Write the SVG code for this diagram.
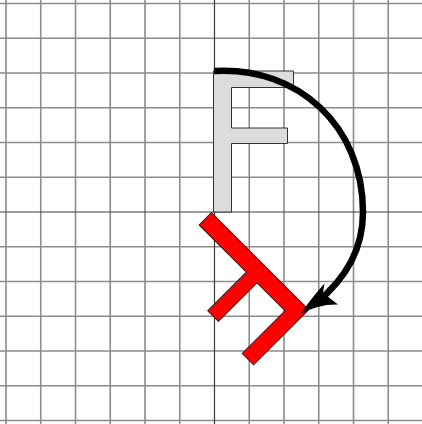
<svg xmlns="http://www.w3.org/2000/svg" width="422" height="424" viewBox="0 0 422 424">
<defs>
<style>
.g{stroke:#8c8c8c;stroke-width:1.6;fill:none}
.ax{stroke:#3c3c3c;stroke-width:1.2;fill:none}
.fo{fill:#dcdcdc;stroke:#333;stroke-width:1}
.fr{fill:#ff0000;stroke:#222;stroke-width:1}
.arc{fill:none;stroke:#000;stroke-width:6.5}
</style>
<path id="F" d="M0,0 V-141 H80 V-124.5 H18 V-84 H74 V-68.5 H18 V0 Z"/>
</defs>
<rect width="422" height="424" fill="#fff"/>
<g id="grid">
<path class="g" d="M6,0V424M40.75,0V424M75.5,0V424M110.25,0V424M145,0V424M179.75,0V424M249.25,0V424M284,0V424M318.75,0V424M353.5,0V424M388.25,0V424"/>
<path class="g" d="M0,3.5H422M0,38.25H422M0,73H422M0,107.75H422M0,142.5H422M0,177.25H422M0,246.75H422M0,281.5H422M0,316.25H422M0,351H422M0,385.75H422M0,420.5H422"/>
<path class="ax" d="M214.5,0V424M0,212H422"/>
</g>
<g id="f-original">
<use href="#F" class="fo" transform="translate(213.5,212)"/>
</g>
<g id="f-rotated">
<use href="#F" class="fr" transform="translate(211.5,212.5) rotate(135) scale(0.975)"/>
</g>
<g id="connectors">
<path class="arc" d="M214,71 C299,66 363,127 363,212 C363,252 342,282 316,303"/>
<path fill="#000" d="M300.5,314 Q313,296 324.5,283.5 L323,293 L338,304.5 Q318,304 300.5,314 Z"/>
</g>
</svg>
